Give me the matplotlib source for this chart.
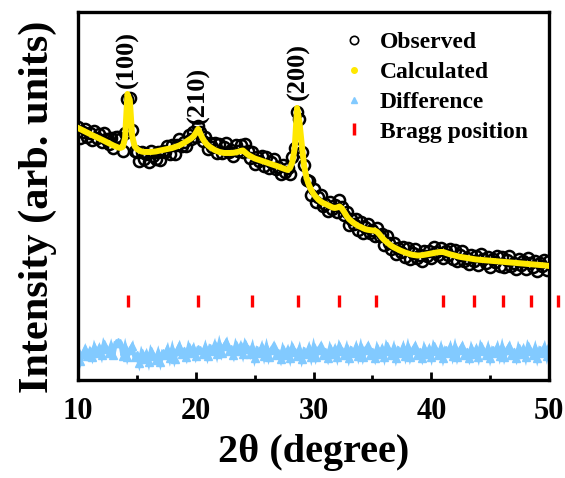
import numpy as np
import matplotlib
matplotlib.use("Agg")
import matplotlib.pyplot as plt
from matplotlib.lines import Line2D

# 2-theta scan: 10-50 deg, 0.2 deg step
scan_start, scan_step, scan_points = 10.0, 0.2, 201
two_theta = np.round(scan_start + scan_step * np.arange(scan_points), 2)

observed = [
    253, 241.8, 247.6, 251.4, 243.2, 247, 239.9, 248.8, 241.7, 245.6,
    237.5, 247.3, 241.1, 235.9, 241.7, 231.5, 242.5, 242.5, 241, 229,
    247, 281, 282, 250, 229, 228, 218.5, 227.5, 221, 226,
    218, 229, 224.2, 220.5, 228, 219.5, 229, 227.5, 234, 225.5,
    235, 225.8, 234.6, 240.5, 233.7, 238, 233.5, 245, 240.5, 247.5,
    243, 254, 248, 239, 242.5, 231, 237, 232.5, 237, 227,
    236, 226.5, 233, 237, 228, 230, 224.2, 234.6, 229.2, 235,
    227.5, 235.5, 228.5, 222, 227.7, 215.5, 222.7, 218.9, 224.1, 214.3,
    222.5, 211.7, 217.9, 221.1, 211.3, 212.5, 205.5, 214.7, 208, 212,
    206, 223, 232, 268, 261, 228, 215, 200, 199, 185,
    191, 178, 182.5, 184.5, 174, 176, 168.8, 177.6, 170.5, 175,
    167.5, 179.5, 172.5, 165, 168, 155, 161, 156, 160.5, 150,
    158, 146.8, 152.8, 156.2, 146.8, 149.5, 143.5, 152, 143.5, 145.5,
    135, 144, 137, 131.2, 136.7, 125.5, 132.3, 128.2, 133.2, 123.3,
    131.5, 120.8, 127.2, 130.8, 121.5, 124.5, 118.8, 129.2, 123.6, 129,
    121.5, 133, 128.4, 124.8, 132, 122, 129.2, 125.4, 130.6, 121,
    129.5, 118.8, 125.2, 128.8, 119.4, 122, 115.6, 125.2, 118.8, 123.5,
    115.3, 126, 120.8, 116.6, 123.4, 113.2, 121, 117.8, 123.6, 114.4,
    123.2, 113, 119.8, 123.6, 114.4, 117.2, 111, 120.8, 114.6, 119.4,
    111.2, 122, 116.8, 112.6, 119.4, 109.2, 117, 113.8, 119.6, 110.3,
    119,
]

calculated = [
    252, 250.8, 249.6, 248.4, 247.2, 246, 244.9, 243.8, 242.7, 241.6,
    240.5, 239.3, 238.1, 236.9, 235.7, 234.5, 233.5, 232.5, 232, 233,
    242, 286, 280, 244, 234, 231, 229.5, 228.5, 228, 228,
    228, 228, 228.2, 228.5, 229, 229.5, 230, 230.5, 231, 231.5,
    232, 232.8, 233.6, 234.5, 235.7, 237, 238.5, 240, 241.5, 243.5,
    247, 251, 246, 241, 237.5, 235, 233, 231.5, 230, 229,
    228, 227.5, 227, 227, 227, 227, 227.2, 227.6, 228.2, 229,
    229.5, 227.5, 225.5, 224, 222.7, 221.5, 220.7, 219.9, 219.1, 218.3,
    217.5, 216.7, 215.9, 215.1, 214.3, 213.5, 212.5, 211.7, 211, 210,
    212, 218, 232, 272, 258, 235, 214, 202, 195, 190,
    186, 183, 180.5, 178.5, 177, 176, 174.8, 173.6, 172.5, 172,
    172.5, 173.5, 171.5, 168, 164, 161, 159, 157, 155.5, 154,
    153, 151.8, 150.8, 150.2, 149.8, 149.5, 149.5, 148, 145.5, 142.5,
    140, 138, 136, 134.2, 132.7, 131.5, 130.3, 129.2, 128.2, 127.3,
    126.5, 125.8, 125.2, 124.8, 124.5, 124.5, 124.8, 125.2, 125.6, 126,
    126.5, 127, 127.4, 127.8, 128, 128, 127.2, 126.4, 125.6, 125,
    124.5, 123.8, 123.2, 122.8, 122.4, 122, 121.6, 121.2, 120.8, 120.5,
    120.3, 120, 119.8, 119.6, 119.4, 119.2, 119, 118.8, 118.6, 118.4,
    118.2, 118, 117.8, 117.6, 117.4, 117.2, 117, 116.8, 116.6, 116.4,
    116.2, 116, 115.8, 115.6, 115.4, 115.2, 115, 114.8, 114.6, 114.3,
    114,
]

bragg_positions = [14.25, 20.2, 24.8, 28.68, 32.17, 35.31, 41.0, 43.63, 46.09, 48.47, 50.76]

peak_labels = ["(100)", "(210)", "(200)"]
peak_label_x = [14.2, 20.2, 28.7]
peak_label_y = [292, 256, 280]

legend_labels = ["Observed", "Calculated", "Difference", "Bragg position"]

# vertical placement of the difference curve and the Bragg ticks
diff_offset = 28
bragg_level = 79

obs = np.array(observed)
calc = np.array(calculated)
difference = obs - calc

YELLOW = "#FFE800"
BLUE = "#82CAFF"

plt.rcParams["font.family"] = ["Liberation Serif", "DejaVu Serif"]
plt.rcParams["font.weight"] = "bold"

fig = plt.figure(figsize=(5.65, 4.78), dpi=100)
ax = fig.add_axes([0.138, 0.205, 0.834, 0.770])

ax.plot(two_theta, difference + diff_offset, color=BLUE, lw=3.2,
        solid_joinstyle="miter", zorder=2)
ax.plot(two_theta, difference + diff_offset, ls="none", marker="^", ms=5.5,
        color=BLUE, zorder=2)
ax.plot(two_theta, obs, ls="none", marker="o", ms=8, mfc="none", mec="black",
        mew=1.8, zorder=3)
ax.plot(two_theta, calc, color=YELLOW, lw=4.3, solid_joinstyle="round", zorder=4)
ax.plot(bragg_positions, [bragg_level] * len(bragg_positions), ls="none",
        marker="|", ms=8, mew=2.4, color="red", clip_on=False, zorder=5)

for lab, lx, ly in zip(peak_labels, peak_label_x, peak_label_y):
    ax.text(lx, ly, lab, rotation=90, ha="center", va="bottom",
            fontsize=19, fontweight="bold")

ax.set_xlim(10, 50)
ax.set_ylim(0, 368)
ax.set_xticks([10, 20, 30, 40, 50])
ax.set_xticks([15, 25, 35, 45], minor=True)
ax.set_yticks([])
ax.tick_params(axis="x", which="major", direction="in", length=6, width=2,
               labelsize=22, pad=12)
ax.tick_params(axis="x", which="minor", direction="in", length=3.5, width=2)
for lbl in ax.get_xticklabels():
    lbl.set_fontweight("bold")
for sp in ax.spines.values():
    sp.set_linewidth(2.4)

ax.set_xlabel("2\u03b8 (degree)", fontsize=29, fontweight="bold", labelpad=6)
ax.set_ylabel("Intensity (arb. units)", fontsize=30.5, fontweight="bold")
ax.yaxis.set_label_coords(-0.045, 0.47)

handles = [
    Line2D([], [], ls="none", marker="o", mfc="none", mec="black", ms=6, mew=1.2),
    Line2D([], [], ls="none", marker="o", color=YELLOW, ms=4),
    Line2D([], [], ls="none", marker="^", color=BLUE, ms=5),
    Line2D([], [], ls="none", marker="|", color="red", ms=9, mew=2.5),
]
ax.legend(handles, legend_labels, loc="upper left", bbox_to_anchor=(0.54, 0.972),
          frameon=False, handlelength=1.0, handletextpad=0.6,
          labelspacing=0.35, borderaxespad=0.0,
          prop={"weight": "bold", "size": 17})

fig.savefig("out.png", dpi=100)
